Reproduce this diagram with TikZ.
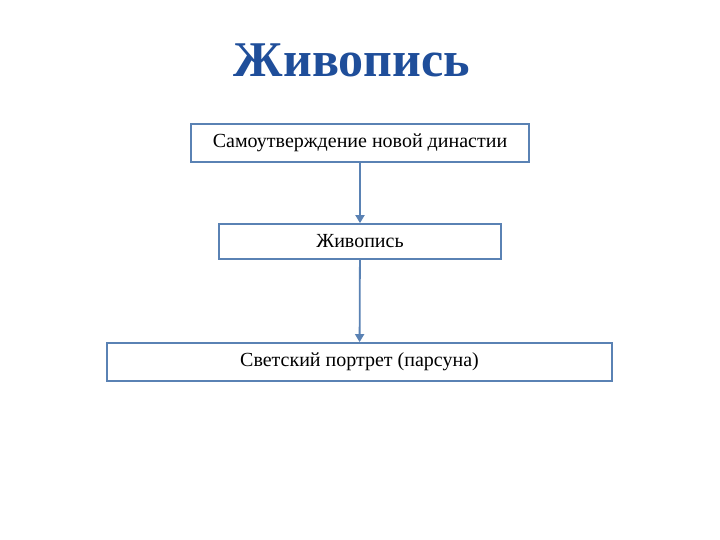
\documentclass[tikz,border=0pt]{standalone}
\usepackage{fontspec}
\setmainfont{Liberation Serif}
\newfontfamily\titlefont{Liberation Serif}
\usetikzlibrary{arrows.meta}
\definecolor{tblue}{HTML}{1F4E9A}
\definecolor{bblue}{HTML}{5A82B4}
\tikzset{box/.style={draw=bblue,line width=1.8pt,minimum height=#1,inner sep=0pt,font=\fontsize{20}{23}\selectfont},
 conn/.style={draw=bblue,line width=1.8pt,-{Triangle[width=9pt,length=8pt]}}}
\begin{document}
\begin{tikzpicture}[x=1pt,y=-1pt]
\useasboundingbox (0,0) rectangle (720,540);
\fill[white] (0,0) rectangle (720,540);
\node[font=\titlefont\bfseries\fontsize{50}{56}\selectfont,text=tblue] (t) at (352,60) {Живопись};
\node[box=38pt,minimum width=338pt] (a) at (360,143) {Самоутверждение новой династии};
\node[box=35pt,minimum width=282pt] (b) at (360,241.5) {Живопись};
\node[box=38pt,minimum width=505pt] (c) at (359.5,362) {Светский портрет (парсуна)};
\draw[conn] (a) -- (b);
\draw[conn] (b) -- (c);
\end{tikzpicture}
\end{document}
